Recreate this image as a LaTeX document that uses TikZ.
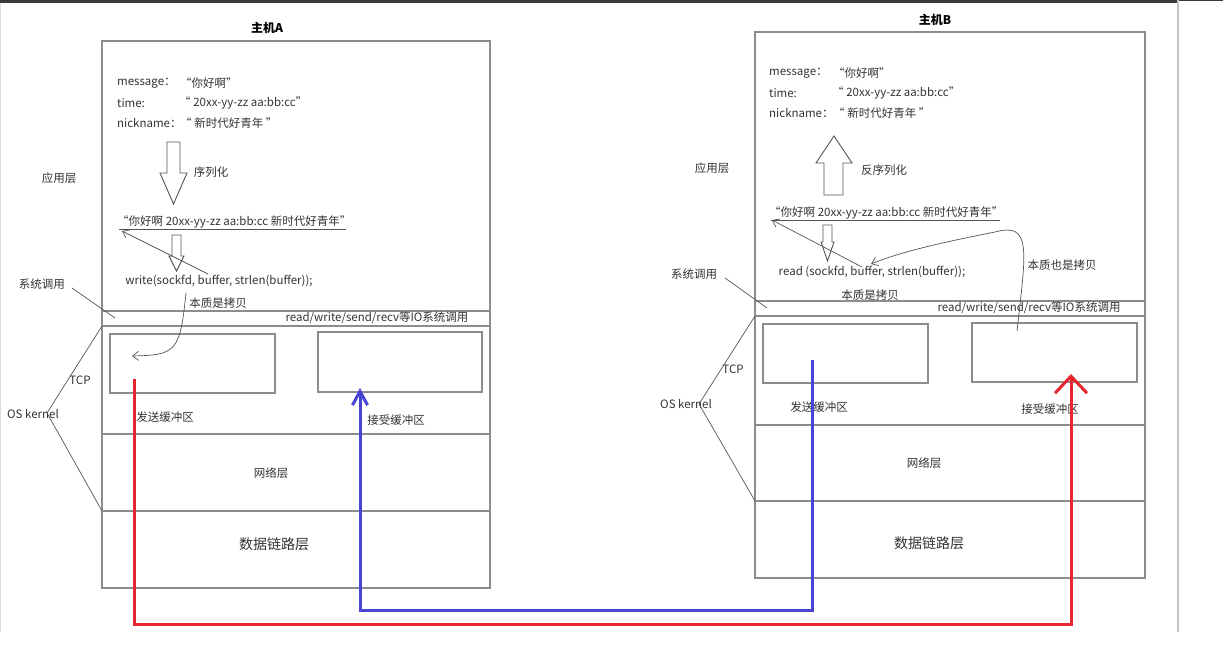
\documentclass[tikz,border=0pt]{standalone}
\usepackage{fontspec}
\setmainfont{Noto Sans CJK SC}
\usetikzlibrary{arrows.meta}
\definecolor{txt}{HTML}{333333}
\definecolor{boxgray}{HTML}{8C8C8C}
\definecolor{linegray}{HTML}{555555}
\definecolor{redl}{HTML}{E6262E}
\definecolor{bluel}{HTML}{4646D2}
\definecolor{framedark}{HTML}{3A3A3A}
\definecolor{framelight}{HTML}{C4C4C4}
\begin{document}
\begin{tikzpicture}[x=1pt,y=-1pt,
 lbl/.style={text=txt,font=\fontsize{11.5}{13}\selectfont,inner sep=0pt},
 biglbl/.style={text=txt,font=\fontsize{14}{16}\selectfont,inner sep=0pt},
 ttl/.style={text=black,font=\bfseries\fontsize{12}{14}\selectfont,inner sep=0pt},
 layer/.style={draw=boxgray,line width=1.1pt},
 buf/.style={draw=boxgray,line width=1.1pt,inner sep=0pt},
 hollow/.style={draw=linegray,line width=0.9pt,fill=white},
 anno/.style={draw=linegray,line width=0.7pt},
 annoarr/.style={anno,-{Straight Barb[length=6pt,width=9pt]}},
 redpath/.style={draw=redl,line width=3pt,-{Straight Barb[length=17pt,width=32pt]}},
 bluepath/.style={draw=bluel,line width=3pt,-{Straight Barb[length=14pt,width=15pt]}},
]
\useasboundingbox (0,0) rectangle (1223,660);
\fill[white] (0,0) rectangle (1223,660);
% screenshot frame
\fill[framedark] (0,0) rectangle (1178,3);
\fill[framedark] (1178,0) rectangle (1223,1);
\draw[framelight,line width=2pt] (1178,0) -- (1178,632);
\draw[framelight!60,line width=1pt] (0.5,3) -- (0.5,632);

% ================= Host A =================
\node[ttl] (ttlA) at (267,28) {主机A};
\draw[layer] (102,41) rectangle (490,588);
\draw[layer] (102,311) -- (490,311);
\draw[layer] (102,326) -- (490,326);
\draw[layer] (102,434) -- (490,434);
\draw[layer] (102,511) -- (490,511);
\node[buf,minimum width=165pt,minimum height=59pt] (sbA) at (192.5,363.5) {};
\node[buf,minimum width=164pt,minimum height=60pt] (rbA) at (400,362) {};

\node[lbl,anchor=west] (mA) at (117,83) {message：};
\node[lbl,anchor=west] (mAv) at (180,83) {“你好啊”};
\node[lbl,anchor=west] (tA) at (117,103) {time:};
\node[lbl,anchor=west] (tAv) at (179,103) {“ 20xx-yy-zz aa:bb:cc”};
\node[lbl,anchor=west] (nA) at (117,123) {nickname：};
\node[lbl,anchor=west] (nAv) at (180,123) {“ 新时代好青年 ”};

\draw[hollow] (167,142) -- (180,142) -- (180,173) -- (187,173) -- (173.5,204) -- (160,173) -- (167,173) -- cycle;
\node[lbl] (serA) at (211,172) {序列化};

\node[lbl,anchor=west] (strA) at (117,222) {“你好啊 20xx-yy-zz aa:bb:cc 新时代好青年”};
\draw[anno] (119,229) -- (346,229);

\draw[hollow] (172,235) -- (181,235) -- (181,256) -- (184,256) -- (176.5,271) -- (169,256) -- (172,256) -- cycle;
\node[lbl] (wrA) at (219,281) {write(sockfd, buffer, strlen(buffer));};
\coordinate (bufA) at (208,274);
\coordinate (strAend) at (122,231);
\draw[annoarr] (bufA) -- (strAend);

\node[lbl] (cpA) at (218,303) {本质是拷贝};
\node[lbl] (barA) at (377,318) {read/write/send/recv等IO系统调用};
\coordinate (cpAs) at (186,293);
\coordinate (cpAe) at (132,356);
\draw[annoarr] (cpAs) .. controls (180,352) and (176,355) .. (cpAe);

\node[lbl] (sbAl) at (165,417) {发送缓冲区};
\node[lbl] (rbAl) at (396,420) {接受缓冲区};
\node[lbl] (netA) at (271,473) {网络层};
\node[biglbl] (linkA) at (274,544) {数据链路层};

\node[lbl] (appA) at (59,178) {应用层};
\node[lbl] (sysA) at (42,284) {系统调用};
\node[lbl] (osA) at (33,414) {OS kernel};
\node[lbl] (tcpA) at (80,380) {TCP};
\coordinate (sysAe) at (115,318);
\draw[anno] (72,288) -- (sysAe);
\draw[anno] (102,326) -- (47,413) -- (102,511);

% ================= Host B =================
\node[ttl] (ttlB) at (935,20) {主机B};
\draw[layer] (755,32) rectangle (1145,578);
\draw[layer] (755,301) -- (1145,301);
\draw[layer] (755,316) -- (1145,316);
\draw[layer] (755,425) -- (1145,425);
\draw[layer] (755,501) -- (1145,501);
\node[buf,minimum width=165pt,minimum height=59pt] (sbB) at (845.5,353.5) {};
\node[buf,minimum width=165pt,minimum height=59pt] (rbB) at (1054.5,352.5) {};

\node[lbl,anchor=west] (mB) at (769,73) {message：};
\node[lbl,anchor=west] (mBv) at (833,73) {“你好啊”};
\node[lbl,anchor=west] (tB) at (769,93) {time:};
\node[lbl,anchor=west] (tBv) at (832,93) {“ 20xx-yy-zz aa:bb:cc”};
\node[lbl,anchor=west] (nB) at (769,113) {nickname：};
\node[lbl,anchor=west] (nBv) at (833,113) {“ 新时代好青年 ”};

\draw[hollow] (834,136) -- (852,163) -- (843,163) -- (843,195) -- (824,195) -- (824,163) -- (816,163) -- cycle;
\node[lbl] (deserB) at (884,170) {反序列化};

\node[lbl,anchor=west] (strB) at (769,213) {“你好啊 20xx-yy-zz aa:bb:cc 新时代好青年”};
\draw[anno] (771,220) -- (1000,220);

\draw[hollow] (823,225) -- (832,225) -- (832,242) -- (834,242) -- (827.5,261) -- (821,242) -- (823,242) -- cycle;
\node[lbl] (rdB) at (872,272) {read (sockfd, buffer, strlen(buffer));};
\coordinate (bufB) at (862,267);
\coordinate (strBend) at (772,220);
\draw[annoarr] (bufB) -- (strBend);

\node[lbl] (cp2B) at (1062,265) {本质也是拷贝};
\node[lbl] (cpB) at (870,295) {本质是拷贝};
\node[lbl] (barB) at (1029,308) {read/write/send/recv等IO系统调用};
\coordinate (cpBs) at (1017,331);
\coordinate (cpBe) at (871,264);
\draw[annoarr] (cpBs) .. controls (1026,250) and (1032,222) .. (995,232) .. controls (955,240) and (905,250) .. (cpBe);

\node[lbl] (sbBl) at (819,407) {发送缓冲区};
\node[lbl] (rbBl) at (1050,409) {接受缓冲区};
\node[lbl] (netB) at (924,463) {网络层};
\node[biglbl] (linkB) at (929,543) {数据链路层};

\node[lbl] (appB) at (712,168) {应用层};
\node[lbl] (sysB) at (694,274) {系统调用};
\node[lbl] (osB) at (686,404) {OS kernel};
\node[lbl] (tcpB) at (733,369) {TCP};
\coordinate (sysBe) at (767,308);
\draw[anno] (725,278) -- (sysBe);
\draw[anno] (755,316) -- (699,404) -- (755,501);

% ================= data paths =================
\coordinate (redS) at (134,379);
\coordinate (redE) at (1071,374);
\draw[redpath] (redS) -- (134,624) -- (1071,624) -- (redE);
\coordinate (blueS) at (812,360);
\coordinate (blueE) at (360,388);
\draw[bluepath] (blueS) -- (812,610) -- (360,610) -- (blueE);
\end{tikzpicture}
\end{document}
